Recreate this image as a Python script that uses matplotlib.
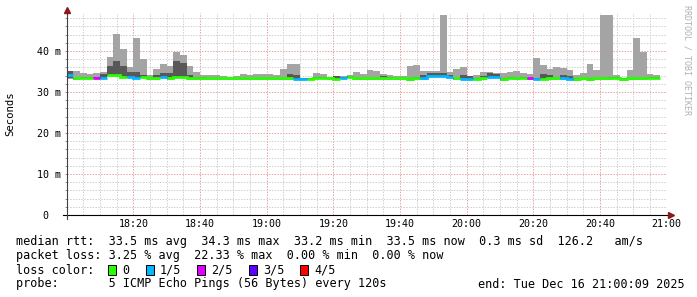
import numpy as np
import matplotlib
matplotlib.use("Agg")
import matplotlib.pyplot as plt
from matplotlib.patches import Rectangle

W, H = 697, 297

# one value per 2 minute step, starting 18:00, milliseconds
step_minutes = 2
ping_max = [35.0, 35.1, 34.6, 34.4, 34.7, 34.9, 38.5, 44.1, 40.5, 36.0,
            43.2, 38.0, 34.1, 35.6, 36.8, 36.3, 39.8, 39.0, 36.3, 34.9,
            34.1, 34.1, 34.1, 33.9, 33.7, 33.9, 34.4, 34.1, 34.4, 34.4,
            34.4, 34.1, 35.6, 36.8, 36.8, 33.4, 33.4, 34.6, 34.4, 33.7,
            33.9, 33.9, 34.1, 34.9, 34.4, 35.4, 35.1, 34.4, 34.1, 33.9,
            33.9, 36.3, 36.6, 35.1, 35.1, 35.1, 48.8, 34.9, 35.6, 36.1,
            33.9, 34.1, 34.9, 34.9, 34.6, 34.6, 34.9, 35.1, 34.6, 34.4,
            38.3, 36.6, 35.6, 36.1, 35.9, 35.4, 34.1, 34.6, 36.8, 35.4,
            48.8, 48.8, 34.1, 33.4, 35.4, 43.2, 39.8, 34.4, 34.1]
ping_p4 = [35.0, 33.5, 33.6, 33.6, 33.6, 34.4, 36.3, 37.6, 36.3, 34.8,
           34.8, 34.1, 33.5, 34.1, 34.6, 34.6, 37.6, 37.1, 34.1, 33.6,
           33.7, 33.5, 33.5, 33.5, 33.5, 33.5, 33.5, 33.5, 33.5, 33.5,
           33.5, 33.5, 33.5, 34.4, 34.1, 33.3, 33.3, 33.7, 33.6, 33.5,
           33.9, 33.6, 33.8, 33.5, 33.5, 33.5, 33.5, 33.9, 33.7, 33.5,
           33.5, 33.3, 33.7, 34.1, 34.6, 34.7, 34.6, 34.1, 33.5, 34.1,
           33.9, 33.4, 33.9, 34.7, 34.4, 33.3, 33.7, 33.5, 33.7, 33.5,
           33.4, 34.4, 34.1, 33.5, 34.1, 33.9, 33.3, 33.5, 33.3, 33.5,
           33.5, 33.6, 33.7, 33.3, 33.5, 33.5, 33.5, 33.7, 33.7]
median = [34.1, 33.3, 33.4, 33.4, 33.4, 33.4, 34.2, 34.2, 33.7, 33.6,
          33.5, 33.6, 33.3, 33.3, 33.6, 33.3, 33.7, 33.6, 33.3, 33.3,
          33.3, 33.3, 33.3, 33.3, 33.3, 33.3, 33.3, 33.3, 33.3, 33.3,
          33.3, 33.3, 33.3, 33.3, 33.2, 33.2, 33.2, 33.5, 33.4, 33.3,
          33.2, 33.4, 33.6, 33.3, 33.3, 33.3, 33.3, 33.3, 33.3, 33.3,
          33.3, 33.1, 33.3, 33.3, 34.0, 34.0, 34.0, 33.7, 33.3, 33.2,
          33.2, 33.2, 33.3, 33.7, 33.7, 33.1, 33.5, 33.3, 33.5, 33.3,
          33.2, 33.2, 33.3, 33.3, 33.3, 33.2, 33.1, 33.3, 33.1, 33.3,
          33.3, 33.3, 33.5, 33.1, 33.3, 33.3, 33.3, 33.5, 33.5]
ping_p2 = [33.3, 33.2, 33.3, 33.3, 33.3, 33.2, 34.0, 34.0, 33.6, 33.4,
           33.4, 33.5, 33.2, 33.2, 33.4, 33.2, 33.5, 33.5, 33.2, 33.2,
           33.2, 33.2, 33.2, 33.2, 33.2, 33.2, 33.2, 33.2, 33.2, 33.2,
           33.2, 33.2, 33.2, 33.2, 33.1, 33.1, 33.1, 33.4, 33.3, 33.2,
           33.1, 33.3, 33.5, 33.2, 33.2, 33.2, 33.2, 33.2, 33.2, 33.2,
           33.2, 33.0, 33.2, 33.2, 33.8, 33.8, 33.8, 33.5, 33.2, 33.1,
           33.1, 33.1, 33.2, 33.5, 33.5, 33.0, 33.4, 33.2, 33.4, 33.2,
           33.1, 33.1, 33.2, 33.2, 33.2, 33.1, 33.0, 33.2, 33.0, 33.2,
           33.2, 33.2, 33.4, 33.0, 33.2, 33.2, 33.2, 33.4, 33.4]
ping_min = [33.2, 33.0, 33.1, 33.1, 33.1, 33.1, 33.8, 33.9, 33.4, 33.3,
            33.3, 33.3, 33.0, 33.0, 33.3, 33.0, 33.4, 33.3, 33.0, 33.0,
            33.0, 33.0, 33.0, 33.0, 33.0, 33.0, 33.0, 33.0, 33.0, 33.0,
            33.0, 33.0, 33.0, 33.0, 32.9, 32.9, 32.9, 33.2, 33.1, 33.0,
            32.9, 33.1, 33.3, 33.0, 33.0, 33.0, 33.0, 33.0, 33.0, 33.0,
            33.0, 32.8, 33.0, 33.0, 33.6, 33.6, 33.6, 33.3, 33.0, 32.9,
            32.9, 32.9, 33.0, 33.3, 33.3, 32.8, 33.2, 33.0, 33.2, 33.0,
            32.9, 32.9, 33.0, 33.0, 33.0, 32.9, 32.8, 33.0, 32.8, 33.0,
            33.0, 33.0, 33.2, 32.8, 33.0, 33.0, 33.0, 33.2, 33.2]
# lost pings out of 5 per step
loss = [1, 0, 0, 0, 2, 1, 0, 0, 0, 1,
        1, 0, 0, 0, 1, 0, 0, 0, 0, 0,
        0, 0, 0, 0, 0, 0, 0, 0, 0, 0,
        0, 0, 0, 0, 1, 1, 0, 0, 0, 0,
        0, 1, 0, 0, 0, 0, 0, 0, 0, 0,
        0, 0, 0, 1, 1, 1, 1, 1, 0, 1,
        1, 0, 0, 1, 1, 0, 0, 0, 0, 2,
        1, 0, 0, 0, 1, 1, 0, 0, 0, 0,
        0, 0, 0, 0, 0, 0, 0, 0, 0]

loss_labels = ["0", "1/5", "2/5", "3/5", "4/5"]
loss_colors = ["#26ff00", "#00b8ff", "#dd00ff", "#5e00ff", "#ff0000"]

xticks = [20, 40, 60, 80, 100, 120, 140, 160, 180]
xtick_labels = ["18:20", "18:40", "19:00", "19:20", "19:40",
                "20:00", "20:20", "20:40", "21:00"]
yticks = [0, 10, 20, 30, 40]
ytick_labels = ["0", "10 m", "20 m", "30 m", "40 m"]

rtt_text = "median rtt:  33.5 ms avg  34.3 ms max  33.2 ms min  33.5 ms now  0.3 ms sd  126.2   am/s"
loss_text = "packet loss: 3.25 % avg  22.33 % max  0.00 % min  0.00 % now"
probe_text = "probe:       5 ICMP Echo Pings (56 Bytes) every 120s"
end_text = "end: Tue Dec 16 21:00:09 2025"

MONO = "DejaVu Sans Mono"
FS = 8.5

fig = plt.figure(figsize=(W / 100, H / 100), dpi=100, facecolor="white")
ax = fig.add_axes([66.7 / W, 82 / H, 600 / W, 202.3 / H])
ax.set_xlim(0, 180)
ax.set_ylim(0, 49.34)
for s in ax.spines.values():
    s.set_visible(False)

edges = np.arange(len(median) + 1) * step_minutes


def stepped(v):
    a = np.asarray(v, dtype=float)
    return np.append(a, a[-1])


# grid
ax.set_axisbelow(True)
ax.set_xticks(np.arange(0, 181, 5), minor=True)
ax.set_yticks(np.arange(0, 49, 2), minor=True)
ax.grid(which="minor", color="#cfcfcf", lw=0.72, ls=(0, (1.4, 1.4)))
ax.grid(which="major", color="#eba0a0", lw=0.72, ls=(0, (1.4, 1.4)))

# smoke
ax.fill_between(edges, stepped(ping_min), stepped(ping_max), step="post",
                color="#a4a4a4", lw=0)
ax.fill_between(edges, stepped(ping_p2), stepped(ping_p4), step="post",
                color="#585858", lw=0)

# median coloured by loss
med = np.asarray(median, dtype=float)
lo = np.asarray(loss)
for lvl, col in enumerate(loss_colors):
    vals = np.where(lo == lvl, med, np.nan)
    if np.all(np.isnan(vals)):
        continue
    ax.step(edges, stepped(vals), where="post", color=col, lw=2.0,
            solid_capstyle="butt", solid_joinstyle="miter")

# ticks
ax.set_xticks(xticks)
ax.set_xticklabels(xtick_labels, fontfamily=MONO, fontsize=7.2)
ax.set_yticks(yticks)
ax.set_yticklabels([s.rjust(2) for s in ytick_labels], fontfamily=MONO,
                   fontsize=7.2, ha="left")
ax.tick_params(axis="x", which="both", length=0, pad=3)
ax.tick_params(axis="y", which="both", length=1.5, width=0.6,
               color="#808080", pad=20.1)

# axis lines with arrows
ax.plot([-4 / 600, 1.004], [0, 0], transform=ax.transAxes, color="black",
        lw=0.8, clip_on=False)
ax.plot([0, 0], [-4 / 202.3, 1.008], transform=ax.transAxes, color="#404040",
        lw=0.8, clip_on=False)
ax.plot([1.0075], [0], transform=ax.transAxes, marker=">", ms=4,
        color="#8b1a1a", clip_on=False)
ax.plot([0], [1.012], transform=ax.transAxes, marker="^", ms=4,
        color="#8b1a1a", clip_on=False)

fig.text(10 / W, 1 - 114 / H, "Seconds", rotation=90, ha="center",
         va="center", fontfamily=MONO, fontsize=7.7)
fig.text(686.5 / W, 1 - 60 / H, "RRDTOOL / TOBI OETIKER", rotation=270,
         ha="center", va="center", fontfamily=MONO, fontsize=6,
         color="#b0b0b0")


def put(x, y, s):
    fig.text(x / W, 1 - y / H, s, ha="left", va="baseline",
             fontfamily=MONO, fontsize=FS, color="black")


put(16, 245.5, rtt_text)
put(16, 259.5, loss_text)
put(16, 273.5, "loss color:")
bx = 108.3
for lab, col in zip(loss_labels, loss_colors):
    fig.patches.append(Rectangle((bx / W, 1 - 274.5 / H), 8 / W, 10 / H,
                                 transform=fig.transFigure, facecolor=col,
                                 edgecolor="black", lw=0.7))
    put(bx + 14.4, 273.5, lab)
    bx += 14.4 + 7 * len(lab) + 16
put(16, 287.5, probe_text)
put(477.7, 287.5, end_text)

fig.savefig("out.png", dpi=100, facecolor="white")
